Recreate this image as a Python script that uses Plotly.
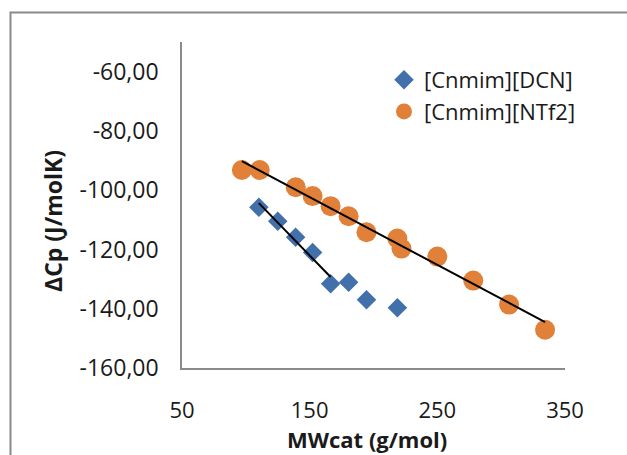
import numpy as np
import plotly.graph_objects as go

# ---- data ----
dcn_mw = [110.2, 125.0, 139.0, 152.3, 166.4, 180.5, 194.5, 218.7]
dcn_cp = [-105.8, -110.5, -115.9, -121.0, -131.6, -131.1, -137.0, -139.7]
ntf2_mw = [96.9, 110.9, 139.1, 152.3, 166.4, 180.5, 194.5, 218.7, 221.9, 250.0, 278.1, 306.2, 334.4]
ntf2_cp = [-93.2, -93.2, -99.0, -102.0, -105.4, -108.8, -114.2, -116.3, -119.7, -122.4, -130.5, -138.6, -147.1]
dcn_fit_points = 5  # trendline of DCN fitted on the first five points

y_tickvals = [-160, -140, -120, -100, -80, -60]
y_ticktext = ["-160,00", "-140,00", "-120,00", "-100,00", "-80,00", "-60,00"]
x_tickvals = [50, 150, 250, 350]
x_ticktext = ["50", "150", "250", "350"]

BLUE = "#4170AB"
ORANGE = "#E08039"
GRAY = "#8A8A8A"
FONT = "Open Sans"
TXT = "#1a1a1a"

fig = go.Figure()

fig.add_trace(go.Scatter(x=dcn_mw, y=dcn_cp, mode="markers", name="[Cnmim][DCN]",
                         marker=dict(symbol="diamond", size=15, color=BLUE)))
fig.add_trace(go.Scatter(x=ntf2_mw, y=ntf2_cp, mode="markers", name="[Cnmim][NTf2]",
                         marker=dict(symbol="circle", size=20, color=ORANGE)))

# linear trendlines
xd = np.array(dcn_mw[:dcn_fit_points]); yd = np.array(dcn_cp[:dcn_fit_points])
a, b = np.polyfit(xd, yd, 1)
fx = np.array([xd.min(), xd.max()])
fig.add_trace(go.Scatter(x=fx, y=a * fx + b, mode="lines", showlegend=False,
                         line=dict(color="black", width=2), hoverinfo="skip"))
xn = np.array(ntf2_mw); yn = np.array(ntf2_cp)
a2, b2 = np.polyfit(xn, yn, 1)
fx2 = np.array([xn.min(), xn.max()])
fig.add_trace(go.Scatter(x=fx2, y=a2 * fx2 + b2, mode="lines", showlegend=False,
                         line=dict(color="black", width=2), hoverinfo="skip"))

L, R, T, B = 182, 62, 42, 87
W, H = 627, 455
pw, ph = W - L - R, H - T - B

def px_x(px):
    return (px - L) / pw

def px_y(py):
    return (T + ph - py) / ph

fig.update_layout(
    width=W, height=H,
    margin=dict(l=L, r=R, t=T, b=B, pad=0),
    paper_bgcolor="white", plot_bgcolor="white",
    font=dict(family=FONT, size=23, color=TXT),
    showlegend=True,
    legend=dict(x=px_x(384), y=px_y(59), xanchor="left", yanchor="top",
                bgcolor="rgba(0,0,0,0)", font=dict(size=22, family=FONT, color=TXT),
                tracegroupgap=0),
    xaxis=dict(range=[50, 350], tickvals=x_tickvals, ticktext=x_ticktext,
               showgrid=False, zeroline=False, showline=True, linecolor=GRAY,
               linewidth=1.5, ticks="", ticklabelstandoff=22,
               tickfont=dict(size=22, family=FONT, color=TXT)),
    yaxis=dict(range=[-160, -50], tickvals=y_tickvals, ticktext=y_ticktext,
               showgrid=False, zeroline=False, showline=True, linecolor=GRAY,
               linewidth=1.5, ticks="", ticklabelstandoff=17,
               tickfont=dict(size=23, family=FONT, color=TXT)),
    annotations=[
        dict(text="<b>ΔCp (J/molK)</b>", xref="paper", yref="paper",
             x=px_x(53), y=px_y(221), xanchor="center", yanchor="middle",
             textangle=-90, showarrow=False, font=dict(size=23, family=FONT, color=TXT)),
        dict(text="<b>MWcat (g/mol)</b>", xref="paper", yref="paper",
             x=px_x(366.5), y=px_y(439), xanchor="center", yanchor="middle",
             showarrow=False, borderpad=0, font=dict(size=22, family=FONT, color=TXT)),
    ],
    shapes=[
        dict(type="rect", xref="paper", yref="paper",
             x0=px_x(10.5), x1=px_x(700), y0=px_y(520), y1=px_y(12.5),
             line=dict(color=GRAY, width=2), fillcolor="rgba(0,0,0,0)", layer="below"),
    ],
)

fig.write_html("out.html")
